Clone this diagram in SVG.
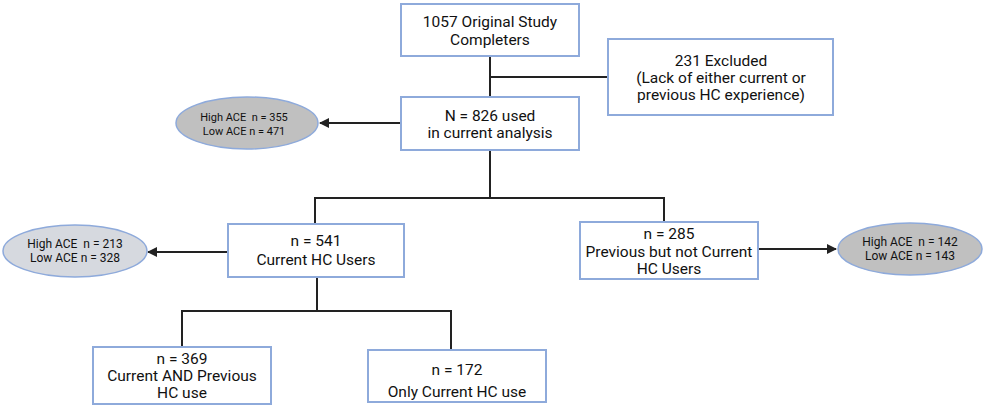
<svg xmlns="http://www.w3.org/2000/svg" width="983" height="408" viewBox="0 0 983 408">
<style>
.box{fill:#fff;stroke:#8eaadb;stroke-width:2}
.ell{stroke:#8eaadb;stroke-width:1.5}
.t{font-family:Roboto,"Liberation Sans",sans-serif;font-size:15.5px;fill:#111;text-anchor:middle}
.s{font-family:Roboto,"Liberation Sans",sans-serif;font-size:12px;fill:#111;text-anchor:middle}
.s1{font-family:Roboto,"Liberation Sans",sans-serif;font-size:11px;fill:#111;text-anchor:middle}
.c{fill:none;stroke:#222;stroke-width:2}
</style>
<defs>
<marker id="ah" viewBox="0 0 10 10" refX="9" refY="5" markerWidth="5" markerHeight="5" orient="auto-start-reverse" markerUnits="strokeWidth">
<path d="M0,0 L10,5 L0,10 z" fill="#222"/>
</marker>
</defs>
<rect width="983" height="408" fill="#fff"/>
<g id="connectors">
<path class="c" d="M490,56 V97"/>
<path class="c" d="M490,77 H608"/>
<path class="c" d="M401,123 H320" marker-end="url(#ah)"/>
<path class="c" d="M490,150 V198 M315,224 V198 H664 V222"/>
<path class="c" d="M228,252 H148" marker-end="url(#ah)"/>
<path class="c" d="M758,249 H836" marker-end="url(#ah)"/>
<path class="c" d="M317,277 V311 M182,347 V311 H451 V350"/>
</g>
<g id="n1057">
<rect class="box" x="401" y="4" width="178" height="52"/>
<text class="t" x="490" y="27">1057 Original Study</text>
<text class="t" x="490" y="45">Completers</text>
</g>
<g id="excluded">
<rect class="box" x="608" y="39" width="225" height="76"/>
<text class="t" x="721" y="66">231 Excluded</text>
<text class="t" x="721" y="83">(Lack of either current or</text>
<text class="t" x="721" y="100">previous HC experience)</text>
</g>
<g id="n826">
<rect class="box" x="401" y="97" width="178" height="53"/>
<text class="t" x="490" y="121">N = 826 used</text>
<text class="t" x="490" y="138">in current analysis</text>
</g>
<g id="ace826">
<ellipse class="ell" cx="247" cy="123" rx="71" ry="26" fill="#c0c0c0"/>
<text class="s1" x="244" y="121">High ACE&#160; n = 355</text>
<text class="s1" x="244" y="135">Low ACE n = 471</text>
</g>
<g id="n541">
<rect class="box" x="228" y="224" width="176" height="53"/>
<text class="t" x="316" y="246">n = 541</text>
<text class="t" x="316" y="265">Current HC Users</text>
</g>
<g id="ace541">
<ellipse class="ell" cx="75" cy="251" rx="72" ry="26" fill="#d6d9df"/>
<text class="s" x="75" y="248">High ACE&#160; n = 213</text>
<text class="s" x="75" y="262">Low ACE n = 328</text>
</g>
<g id="n285">
<rect class="box" x="580" y="222" width="178" height="57"/>
<text class="t" x="669" y="239">n = 285</text>
<text class="t" x="669" y="257">Previous but not Current</text>
<text class="t" x="669" y="274">HC Users</text>
</g>
<g id="ace285">
<ellipse class="ell" cx="910" cy="249" rx="72" ry="26" fill="#c0c0c0"/>
<text class="s" x="910" y="246">High ACE&#160; n = 142</text>
<text class="s" x="910" y="260">Low ACE n = 143</text>
</g>
<g id="n369">
<rect class="box" x="93" y="347" width="178" height="57"/>
<text class="t" x="182" y="364">n = 369</text>
<text class="t" x="182" y="381">Current AND Previous</text>
<text class="t" x="182" y="398">HC use</text>
</g>
<g id="n172">
<rect class="box" x="368" y="350" width="178" height="52"/>
<text class="t" x="457" y="375">n = 172</text>
<text class="t" x="457" y="397">Only Current HC use</text>
</g>
</svg>
